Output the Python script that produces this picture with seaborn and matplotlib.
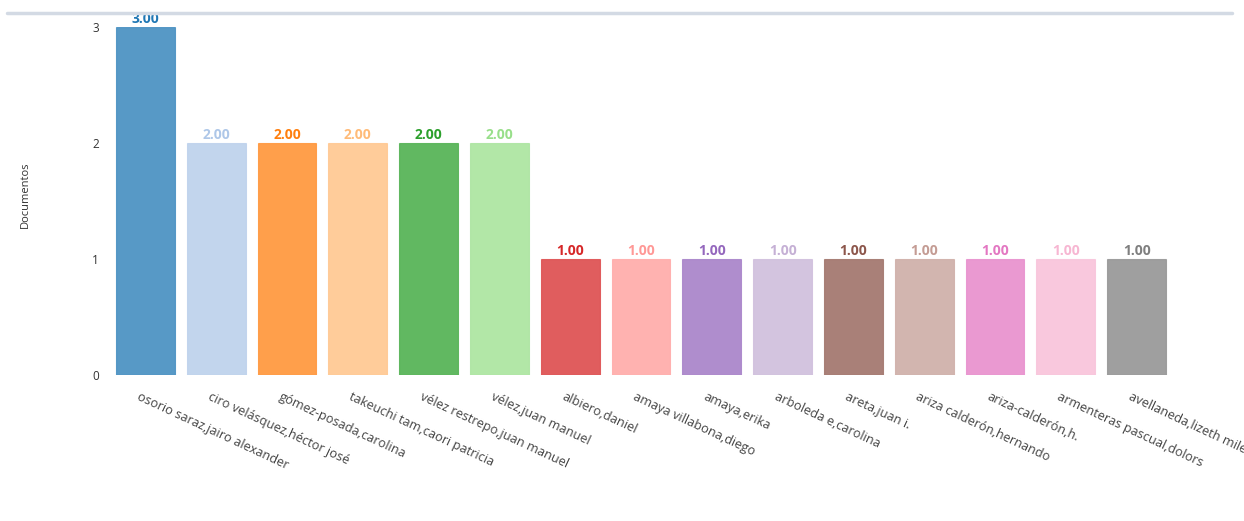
import matplotlib
matplotlib.use("Agg")
import matplotlib.pyplot as plt
from matplotlib.lines import Line2D
from matplotlib.colors import to_rgba
import matplotlib.transforms as mtrans
import seaborn as sns
import pandas as pd

names = ["osorio saraz,jairo alexander", "ciro velásquez,héctor josé", "gómez-posada,carolina",
         "takeuchi tam,caori patricia", "vélez restrepo,juan manuel", "vélez,juan manuel",
         "albiero,daniel", "amaya villabona,diego", "amaya,erika", "arboleda e,carolina",
         "areta,juan i.", "ariza calderón,hernando", "ariza-calderón,h.",
         "armenteras pascual,dolors", "avellaneda,lizeth milena"]
documentos = [3, 2, 2, 2, 2, 2, 1, 1, 1, 1, 1, 1, 1, 1, 1]
y_ticks = [0, 1, 2, 3]

sns.set_theme(style="white")
plt.rcParams['font.family'] = ['Open Sans', 'DejaVu Sans']

df = pd.DataFrame({"name": names, "doc": documentos})
colors = sns.color_palette("tab20", len(names))

fig = plt.figure(figsize=(12.44, 5.21), dpi=100)
ax = fig.add_axes([110/1244, 1-375/521, (1172-110)/1244, (375-27)/521])
sns.barplot(data=df, x="name", y="doc", hue="name", palette=colors, legend=False,
            width=0.83, ax=ax, saturation=1)
for p, c in zip(ax.patches, colors):
    p.set_facecolor(to_rgba(c, 0.75))
    p.set_edgecolor(to_rgba(c, 0.6))
    p.set_linewidth(0.8)

for i, (v, c) in enumerate(zip(documentos, colors)):
    ax.text(i, v + 0.01, f"{v:.2f}", ha="center", va="bottom", fontsize=10,
            fontweight="bold", color=c)

ax.set_xlim(-0.5, len(names) - 0.5)
ax.set_ylim(0, 3)
ax.set_yticks(y_ticks)
ax.set_yticklabels([str(t) for t in y_ticks], fontsize=8.5, color="#333333")
ax.tick_params(axis="y", length=0, pad=8)
ax.set_xticks(range(len(names)))
ax.set_xticklabels(names, rotation=-25, ha="left", va="top", rotation_mode="anchor",
                   fontsize=9.2, color="#444444")
ax.tick_params(axis="x", length=0, pad=11)
offset = mtrans.ScaledTranslation(-5/100, 0, fig.dpi_scale_trans)
for lab in ax.get_xticklabels():
    lab.set_transform(lab.get_transform() + offset)
ax.set_xlabel("")
ax.set_ylabel("")
fig.text(25/1244, 1-195/521, "Documentos", rotation=90, ha="center", va="center",
         fontsize=8, color="#333333")
for s in ax.spines.values():
    s.set_visible(False)

fig.add_artist(Line2D([7/1244, 1232/1244], [1-13/521, 1-13/521], color="#d3dae4",
                      linewidth=2.5, transform=fig.transFigure))

fig.savefig("out.png", dpi=100)
